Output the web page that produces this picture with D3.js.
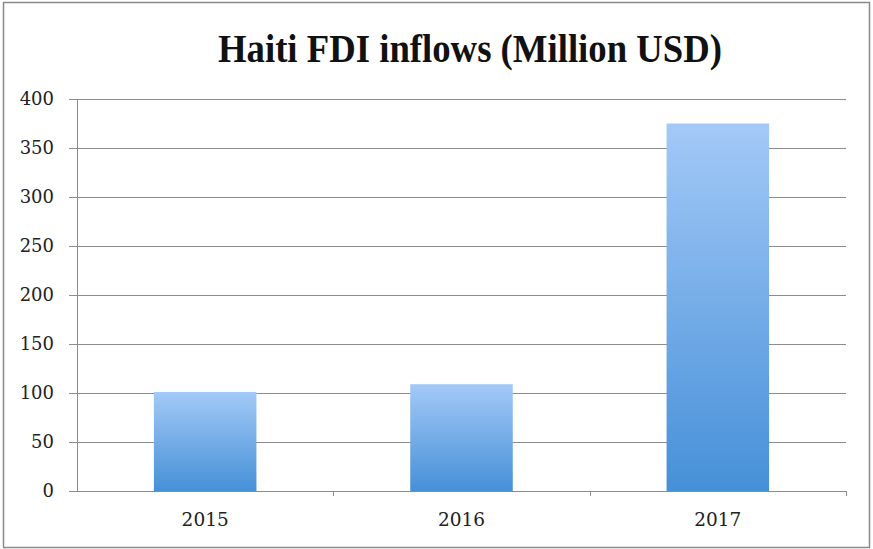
<!DOCTYPE html>
<html>
<head>
<meta charset="utf-8">
<script src="https://cdn.jsdelivr.net/npm/d3@7"></script>
<style>
  body { margin: 0; background: #fff; }
  svg { display: block; }
</style>
</head>
<body>
<svg id="chart"></svg>
<script>
// data
const years = ["2015", "2016", "2017"];
const fdiValues = [101, 109, 375];
const yTicks = [0, 50, 100, 150, 200, 250, 300, 350, 400];
const chartTitle = "Haiti FDI inflows (Million USD)";

const width = 873, height = 549;
const margin = { top: 99, right: 27, bottom: 58, left: 77 };

const svg = d3.select("#chart")
    .attr("width", width)
    .attr("height", height);

// frame round the whole chart
svg.append("rect")
    .attr("x", 3.5).attr("y", 2.5)
    .attr("width", 866).attr("height", 545)
    .attr("fill", "#fff")
    .attr("stroke", "#8a8a8a")
    .attr("stroke-width", 1.5);

// bar gradient, light at top, darker blue at the bottom
const grad = svg.append("defs").append("linearGradient")
    .attr("id", "barFill")
    .attr("x1", 0).attr("y1", 0).attr("x2", 0).attr("y2", 1);
grad.append("stop").attr("offset", "0%").attr("stop-color", "#a3c9f7");
grad.append("stop").attr("offset", "100%").attr("stop-color", "#4690d8");

const x = d3.scaleBand()
    .domain(years)
    .range([margin.left, width - margin.right])
    .paddingInner(0.6)
    .paddingOuter(0.3);

const y = d3.scaleLinear()
    .domain([0, 400])
    .range([height - margin.bottom, margin.top]);

// gridlines
svg.append("g")
    .selectAll("line")
    .data(yTicks)
    .enter().append("line")
    .attr("x1", margin.left - 8)
    .attr("x2", width - margin.right)
    .attr("y1", d => Math.round(y(d)) + 0.5)
    .attr("y2", d => Math.round(y(d)) + 0.5)
    .attr("stroke", "#8c8c8c")
    .attr("stroke-width", 1);

// y axis line
svg.append("line")
    .attr("x1", margin.left + 0.5).attr("x2", margin.left + 0.5)
    .attr("y1", y(400)).attr("y2", y(0))
    .attr("stroke", "#8c8c8c");

// y tick labels
svg.append("g")
    .selectAll("text")
    .data(yTicks)
    .enter().append("text")
    .attr("x", 54)
    .attr("y", d => y(d))
    .attr("dy", "0.35em")
    .attr("text-anchor", "end")
    .style("font", "18px 'DejaVu Serif', serif")
    .attr("fill", "#222")
    .text(d => d);

// bars
svg.append("g")
    .selectAll("rect")
    .data(fdiValues)
    .enter().append("rect")
    .attr("x", (d, i) => x(years[i]))
    .attr("y", d => y(d))
    .attr("width", x.bandwidth())
    .attr("height", d => y(0) - y(d))
    .attr("fill", "url(#barFill)");

// category ticks at the band edges
const bandEdges = [1, 2, 3].map(i => margin.left + (width - margin.left - margin.right) / 3 * i);
svg.append("g")
    .selectAll("line")
    .data(bandEdges)
    .enter().append("line")
    .attr("x1", d => Math.round(d) + 0.5)
    .attr("x2", d => Math.round(d) + 0.5)
    .attr("y1", y(0))
    .attr("y2", y(0) + 5)
    .attr("stroke", "#8c8c8c");

// x labels
svg.append("g")
    .selectAll("text")
    .data(years)
    .enter().append("text")
    .attr("x", d => x(d) + x.bandwidth() / 2)
    .attr("y", 520)
    .attr("dy", "0.35em")
    .attr("text-anchor", "middle")
    .style("font", "18.5px 'DejaVu Serif', serif")
    .attr("fill", "#222")
    .text(d => d);

// title
svg.append("text")
    .attr("x", 470)
    .attr("y", 62)
    .attr("text-anchor", "middle")
    .attr("textLength", 504)
    .attr("lengthAdjust", "spacingAndGlyphs")
    .style("font", "bold 40px 'Liberation Serif', serif")
    .attr("fill", "#111")
    .text(chartTitle);
</script>
</body>
</html>
